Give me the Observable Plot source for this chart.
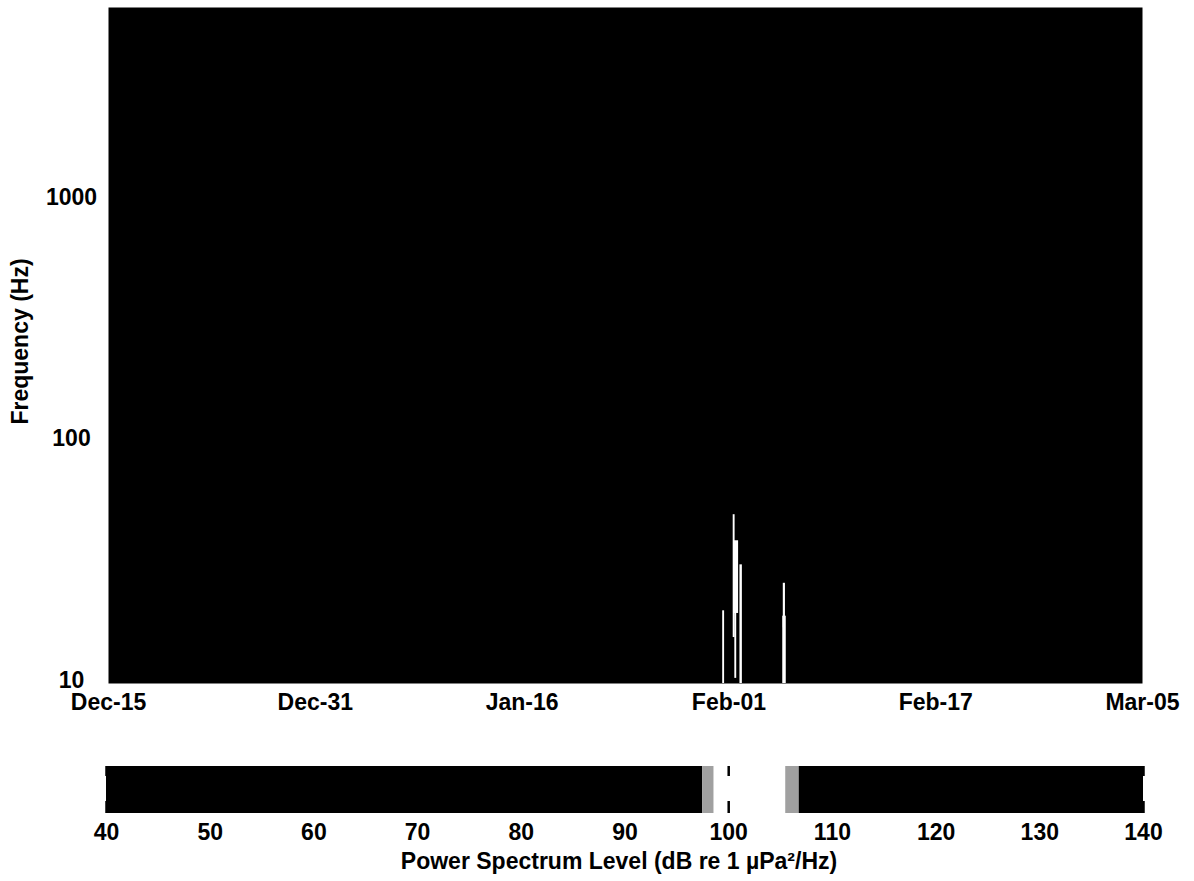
<!DOCTYPE html>
<html>
<head>
<meta charset="utf-8">
<script src="https://cdn.jsdelivr.net/npm/d3@7"></script>
<script src="https://cdn.jsdelivr.net/npm/@observablehq/plot@0.6"></script>
<style>
  html, body { margin: 0; padding: 0; background: #fff; }
  #chart svg { display: block; }
</style>
</head>
<body>
<div id="chart"></div>
<script>
// ---- Data ----
const timeDomain = ["2006-12-15", "2007-03-05"];
const tickDates = ["2006-12-15", "2006-12-31", "2007-01-16", "2007-02-01", "2007-02-17", "2007-03-05"];
const freqDomain = [10, 6300];
const freqTicks = [10, 100, 1000];

// white (high-level) streaks in the spectrogram
const streakStart  = ["2007-01-31T12:30Z", "2007-02-01T08:00Z", "2007-02-01T08:30Z", "2007-02-01T11:00Z", "2007-02-01T20:30Z", "2007-02-05T04:00Z", "2007-02-05T05:00Z"];
const streakEnd    = ["2007-01-31T16:00Z", "2007-02-01T11:30Z", "2007-02-01T18:00Z", "2007-02-01T14:30Z", "2007-02-02T01:00Z", "2007-02-05T10:30Z", "2007-02-05T09:00Z"];
const streakLowHz  = [10, 15.5, 19.5, 10.5, 10, 10, 17];
const streakHighHz = [20, 50, 39, 26, 31, 19, 26];
const streakLevel  = [100, 101, 102, 101, 100, 101, 102];

// colour bar
const levelDomain = [40, 140];
const levelTicks = [40, 50, 60, 70, 80, 90, 100, 110, 120, 130, 140];
const colorThresholds = [97.5, 98.6, 105.5, 106.8];
const colorRange = ["black", "#a0a0a0", "white", "#a0a0a0", "black"];

const yLabel = "Frequency (Hz)";
const colorbarTitle = "Power Spectrum Level (dB re 1 µPa²/Hz)";

// ---- Build ----
const streaks = streakStart.map((s, i) => ({
  t1: new Date(s), t2: new Date(streakEnd[i]),
  f1: streakLowHz[i], f2: streakHighHz[i], level: streakLevel[i]
}));
const colorScale = {type: "threshold", domain: colorThresholds, range: colorRange};
const font = {fontFamily: "'Liberation Sans', Arial, Helvetica, sans-serif", fontWeight: "bold", fontSize: "23px", background: "white"};
const fmt = d3.utcFormat("%b-%d");

const main = Plot.plot({
  width: 1194, height: 720,
  marginLeft: 108, marginRight: 52, marginTop: 7, marginBottom: 37,
  style: font,
  x: {type: "utc", domain: timeDomain.map(d => new Date(d)), label: null},
  y: {type: "log", domain: freqDomain, label: null},
  color: colorScale,
  marks: [
    Plot.frame({fill: "black"}),
    Plot.rect(streaks, {x1: "t1", x2: "t2", y1: "f1", y2: "f2", fill: "level"}),
    Plot.axisX({ticks: tickDates.map(d => new Date(d)), tickFormat: fmt, tickSize: 0, tickPadding: 10}),
    Plot.axisY({ticks: freqTicks, tickFormat: d => String(d), tickSize: 0, tickPadding: 37, textAnchor: "middle", dy: -3}),
    Plot.text([yLabel], {frameAnchor: "left", textAnchor: "middle", rotate: -90, dx: -88, dy: -4, fontSize: 23, fontWeight: "bold"})
  ]
});

// contiguous colour-bar bands built from the scale thresholds
const edges = [levelDomain[0], ...colorThresholds, levelDomain[1]];
const bands = d3.pairs(edges).map(([a, b]) => ({a, b}));
const bar = Plot.plot({
  width: 1194, height: 161,
  marginLeft: 106, marginRight: 51, marginTop: 46, marginBottom: 68,
  style: font,
  x: {domain: levelDomain, label: null},
  color: colorScale,
  marks: [
    Plot.rect(bands, {x1: "a", x2: "b", fill: d => (d.a + d.b) / 2}),
    Plot.tickX(levelTicks, {stroke: "black", strokeWidth: 2.5, insetTop: 35}),
    Plot.tickX(levelTicks, {stroke: "black", strokeWidth: 2.5, insetBottom: 37}),
    Plot.axisX({ticks: levelTicks, tickSize: 0, tickPadding: 10}),
    Plot.text([colorbarTitle], {frameAnchor: "bottom", textAnchor: "middle", lineAnchor: "top", dy: 39, dx: -6, fontSize: 23, fontWeight: "bold"})
  ]
});

document.getElementById("chart").append(main, bar);
</script>
</body>
</html>
